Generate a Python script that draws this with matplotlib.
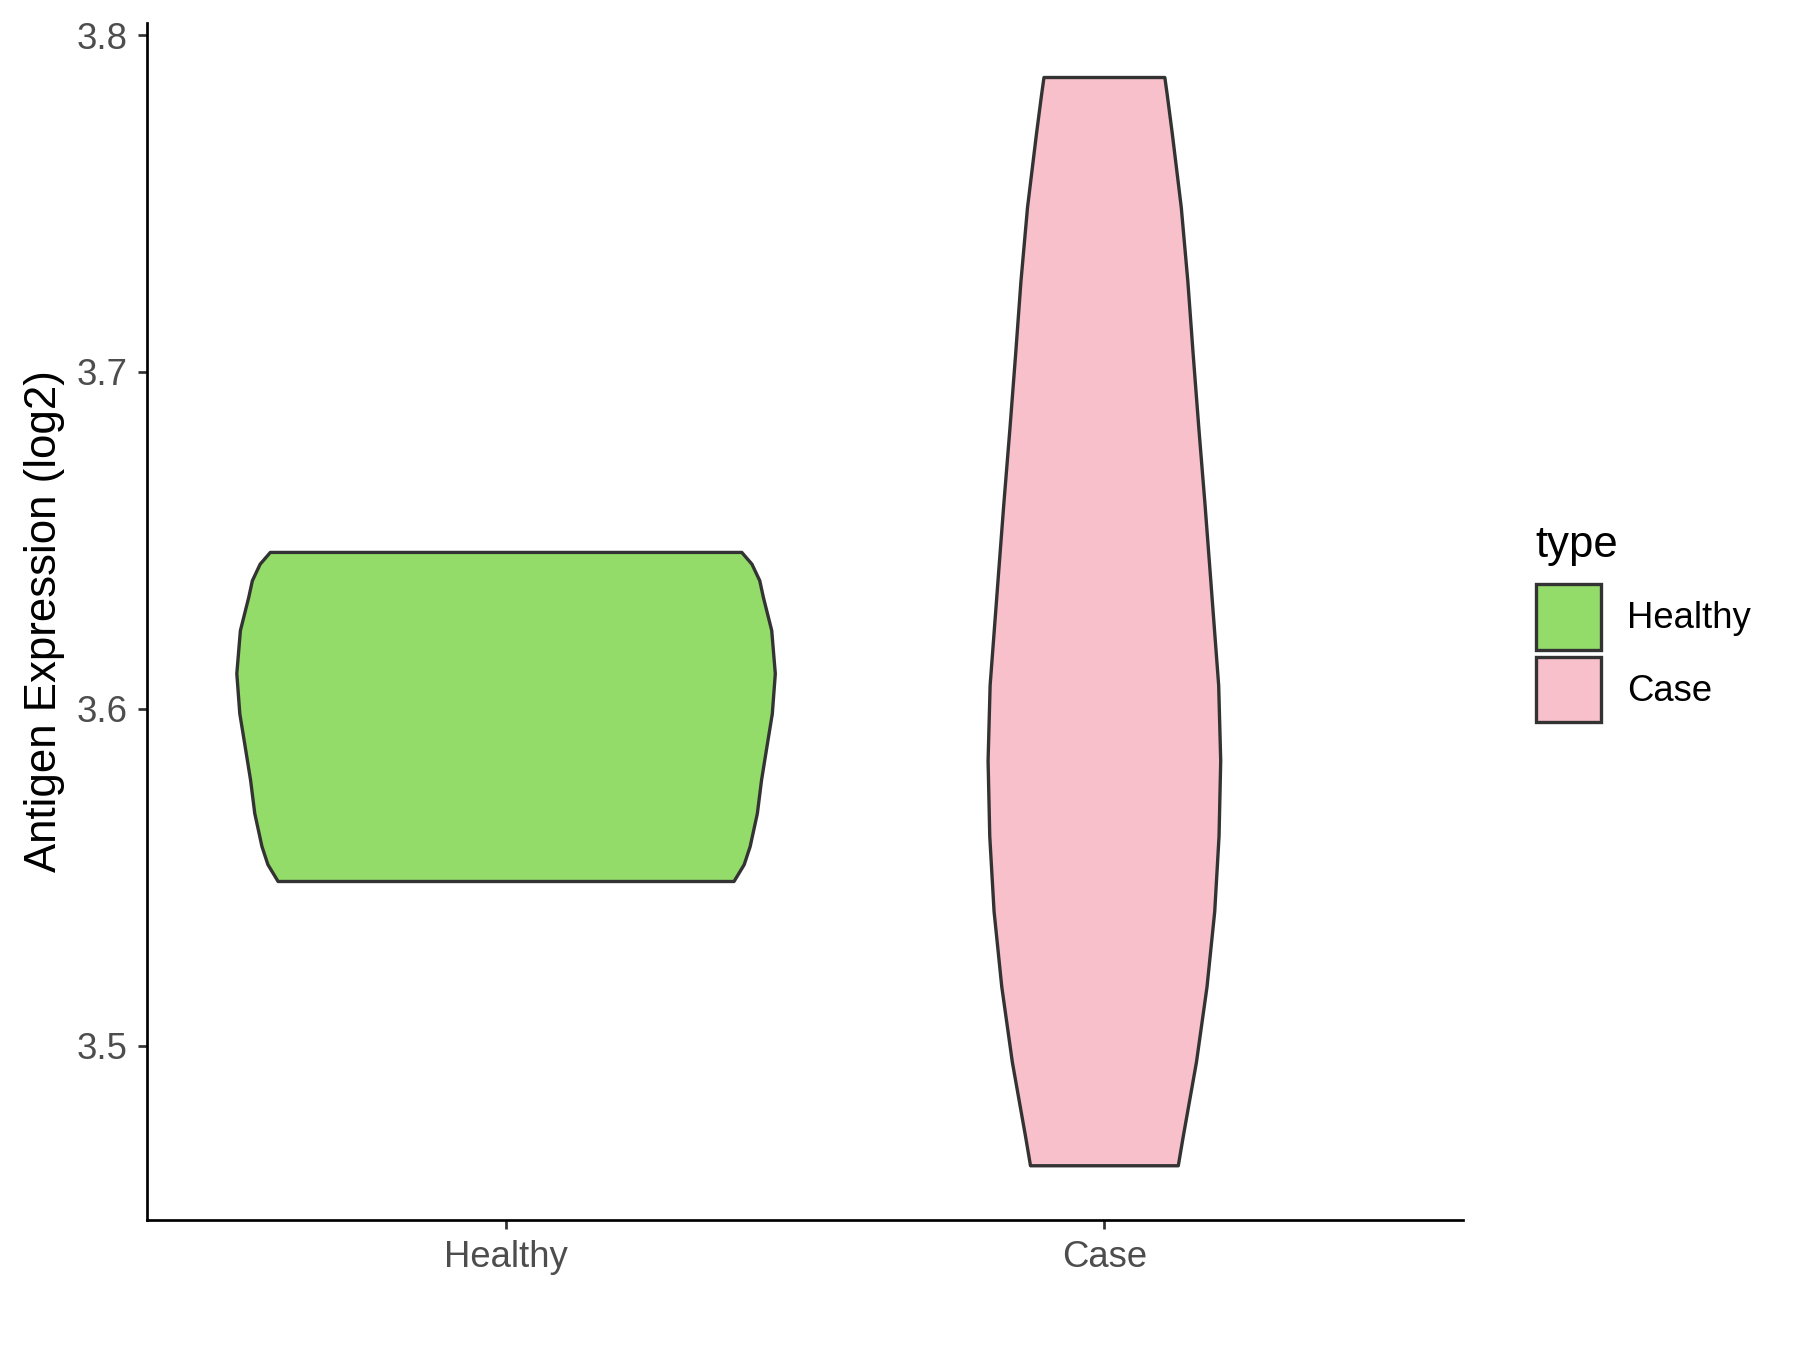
import matplotlib
matplotlib.use("Agg")
import matplotlib.pyplot as plt
from matplotlib.patches import Patch

plt.rcParams['font.family'] = ['Liberation Sans', 'DejaVu Sans']

# groups and colours
groups = ["Healthy", "Case"]
colors = ["#94DC6A", "#F7C0CB"]

# violin outlines: expression value -> half width
healthy_y = [3.6464, 3.6429, 3.6380, 3.6331, 3.6232, 3.6104, 3.5985, 3.5887,
             3.5788, 3.5689, 3.5591, 3.5537, 3.5487]
healthy_w = [0.394, 0.411, 0.424, 0.430, 0.444, 0.450, 0.445, 0.436,
             0.427, 0.420, 0.408, 0.398, 0.381]

case_y = [3.7874, 3.7823, 3.7707, 3.7488, 3.7268, 3.7049, 3.6829, 3.6610,
          3.6390, 3.6293, 3.6069, 3.5845, 3.5621, 3.5398, 3.5174, 3.4950,
          3.4727, 3.4643]
case_w = [0.101, 0.105, 0.1135, 0.1285, 0.1395, 0.1485, 0.158, 0.168,
          0.1774, 0.1815, 0.191, 0.1944, 0.1916, 0.1844, 0.1715, 0.1538,
          0.1315, 0.1235]

y_ticks = [3.5, 3.6, 3.7, 3.8]

profiles = [(healthy_y, healthy_w), (case_y, case_w)]

fig = plt.figure(figsize=(12, 9), dpi=150)
ax = fig.add_axes([0.0817, 0.0963, 0.7313, 0.8867])

for i, (ys, ws) in enumerate(profiles):
    pos = i + 1
    left = [pos - w for w in ws]
    right = [pos + w for w in ws]
    xs = left + right[::-1]
    yy = ys + ys[::-1]
    ax.fill(xs, yy, facecolor=colors[i], edgecolor="#333333", linewidth=1.6,
            joinstyle="round", zorder=2)

ax.set_xlim(0.4, 2.6)
ax.set_ylim(3.4482, 3.8036)
ax.set_xticks([1, 2])
ax.set_xticklabels(groups)
ax.set_yticks(y_ticks)
ax.set_yticklabels([f"{v:.1f}" for v in y_ticks])
ax.set_ylabel("Antigen Expression (log2)", fontsize=21, color="black", labelpad=5.5)

for side in ["top", "right"]:
    ax.spines[side].set_visible(False)
for side in ["left", "bottom"]:
    ax.spines[side].set_linewidth(1.3)
    ax.spines[side].set_color("black")
ax.tick_params(axis="both", length=4.5, width=1.3, color="#333333",
               labelsize=17.5, labelcolor="#4D4D4D", pad=5)

# legend keys drawn as square patches like ggplot's
handles = [Patch(facecolor=colors[i], edgecolor="#333333", linewidth=1.6, label=groups[i])
           for i in range(len(groups))]
leg = fig.legend(handles=handles, title="type", loc="upper left",
                 bbox_to_anchor=(0.845, 0.622), frameon=False, fontsize=17.5,
                 title_fontsize=21, handlelength=1.8, handleheight=2.39,
                 labelspacing=0.19, handletextpad=0.72, borderaxespad=0)
leg._legend_box.align = "left"
leg._legend_box.sep = 8.8

fig.savefig("out.png", dpi=150)
plt.close()
